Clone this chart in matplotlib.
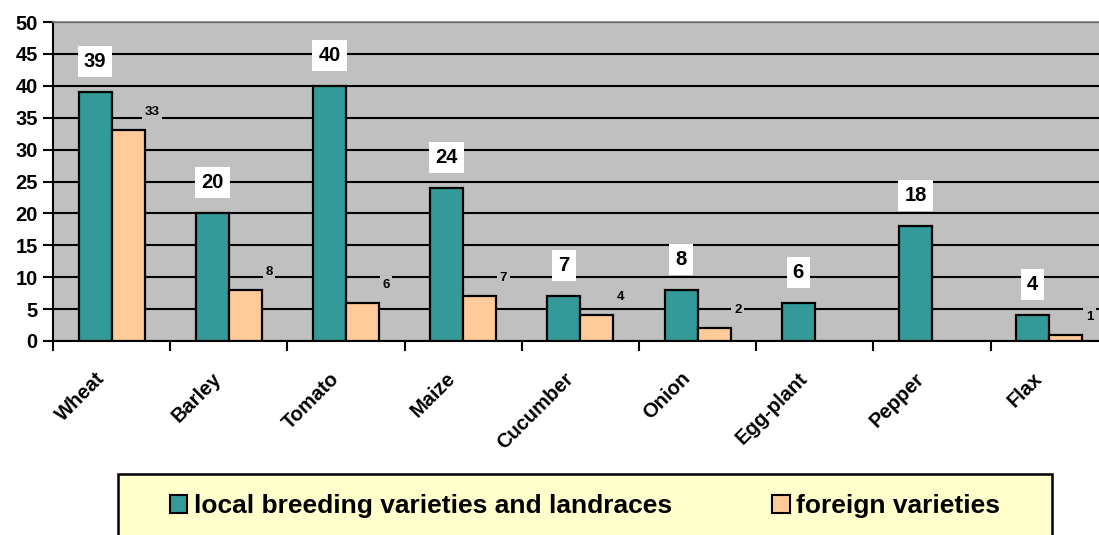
import matplotlib

matplotlib.use("Agg")
import matplotlib.pyplot as plt
from matplotlib.patches import Rectangle, Patch
from matplotlib.transforms import ScaledTranslation
import numpy as np

crops = ["Wheat", "Barley", "Tomato", "Maize", "Cucumber", "Onion", "Egg-plant", "Pepper", "Flax"]
local = [39, 20, 40, 24, 7, 8, 6, 18, 4]
foreign = [33, 8, 6, 7, 4, 2, 0, 0, 1]
local_name = "local breeding varieties and landraces"
foreign_name = "foreign varieties"

TEAL = "#339999"
PEACH = "#FFCC99"
PLOT_BG = "#C0C0C0"

plt.rcParams["font.family"] = ["Liberation Sans", "DejaVu Sans"]
plt.rcParams["font.weight"] = "bold"

W, H = 1099, 535
fig = plt.figure(figsize=(W / 100, H / 100), dpi=100)
ax = fig.add_axes([53 / W, 1 - 341 / H, 9 * 117.2 / W, 319 / H])
ax.set_facecolor(PLOT_BG)

x = np.arange(len(crops))
bw = 0.282
ax.bar(x - bw / 2, local, bw, color=TEAL, edgecolor="black", linewidth=1.6, zorder=3)
shown = [v if v > 0 else np.nan for v in foreign]
ax.bar(x + bw / 2, shown, bw, color=PEACH, edgecolor="black", linewidth=1.6, zorder=3)

# value labels: big boxed ones for local, small ones beside the foreign bars
for xi, v in zip(x, local):
    ax.annotate(str(v), (xi - bw / 2, v), xytext=(0, 22), textcoords="offset points",
                ha="center", va="center", fontsize=14.5, fontweight="bold", zorder=5,
                bbox=dict(boxstyle="square,pad=0.3", fc="white", ec="none"))
for xi, v in zip(x, foreign):
    if v == 0:
        continue
    ax.annotate(str(v), (xi + bw / 2, v), xytext=(17, 13), textcoords="offset points",
                ha="center", va="center", fontsize=9.5, fontweight="bold", zorder=5,
                bbox=dict(boxstyle="square,pad=0.2", fc=PLOT_BG, ec="none"))

ax.set_xlim(-0.5, len(crops) - 0.5)
ax.set_ylim(0, 50)
ax.set_yticks(range(0, 51, 5))
ax.yaxis.grid(True, color="black", linewidth=1.5, zorder=1)
ax.set_axisbelow(True)
ax.tick_params(axis="y", direction="out", length=7, width=1.5, labelsize=14.5, pad=4)

ax.set_xticks(x)
ax.set_xticklabels(crops, rotation=45, ha="right", rotation_mode="anchor", fontsize=14.5,
                   fontweight="bold")
ax.set_xticks(np.arange(-0.5, len(crops), 1), minor=True)
ax.tick_params(axis="x", which="major", length=0, pad=20)
ax.tick_params(axis="x", which="minor", direction="out", length=7, width=1.5)
shift = ScaledTranslation(-17 / 100, 0, fig.dpi_scale_trans)
for lbl in ax.get_xticklabels():
    lbl.set_transform(lbl.get_transform() + shift)

for s in ("left", "bottom"):
    ax.spines[s].set_color("black")
    ax.spines[s].set_linewidth(1.5)
ax.spines["top"].set_color("#808080")
ax.spines["top"].set_linewidth(1.2)
ax.spines["right"].set_visible(False)

box = Rectangle((118 / W, -0.05), 934 / W, 1 - 474 / H + 0.05, transform=fig.transFigure,
                facecolor="#FFFFCC", edgecolor="black", linewidth=1.8, zorder=0)
fig.patches.append(box)

handles = [Patch(facecolor=TEAL, edgecolor="black", linewidth=1.5),
           Patch(facecolor=PEACH, edgecolor="black", linewidth=1.5)]
fig.legend(handles, [local_name, foreign_name], loc="center left",
           bbox_to_anchor=(157 / W, 1 - 506 / H), ncol=2, frameon=False, borderpad=0,
           handlelength=0.65, handleheight=0.65, handletextpad=0.25, columnspacing=3.8,
           prop=dict(size=19, weight="bold"))

fig.savefig("out.png", dpi=100)
